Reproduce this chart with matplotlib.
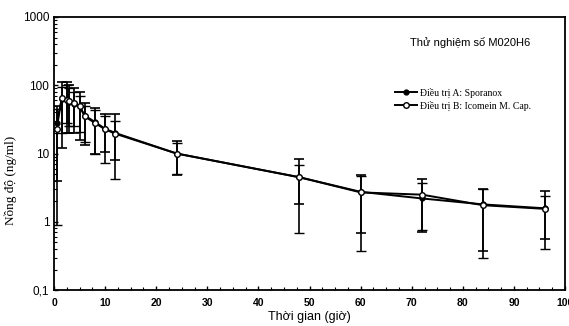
import matplotlib
matplotlib.use("Agg")
import matplotlib.pyplot as plt
from matplotlib.lines import Line2D
from matplotlib.ticker import FixedLocator, FuncFormatter, MultipleLocator, LogLocator, NullFormatter

# thời gian lấy mẫu (giờ)
times = [0.5, 1.5, 2.5, 3, 4, 5, 6, 8, 10, 12, 24, 48, 60, 72, 84, 96]

# Điều trị A: Sporanox (điểm đặc)
a_mean = [28, 62, 60, 57, 54, 49, 36, 29, 23, 20, 10, 4.5, 2.75, 2.2, 1.8, 1.58]
a_hi = [50, 110, 110, 100, 90, 80, 55, 46, 38, 38, 15.5, 8.3, 4.8, 4.2, 3.0, 2.8]
a_lo = [4.0, 12, 20, 20, 20, 16, 13.5, 10, 10.5, 8, 4.8, 1.8, 0.68, 0.7, 0.37, 0.57]

# Điều trị B: Icomein M. Cap. (điểm rỗng)
b_mean = [22.6, 65, 61, 58, 55, 50, 35, 28, 22.6, 19.5, 10, 4.5, 2.7, 2.5, 1.75, 1.55]
b_hi = [45, 95, 100, 90, 80, 70, 50, 44, 36, 30, 14.5, 6.7, 4.7, 3.7, 3.0, 2.4]
b_lo = [0.9, 20, 28, 25, 25, 21, 15, 10, 7.2, 4.2, 5.0, 0.68, 0.37, 0.75, 0.30, 0.40]

ytick_vals = [0.1, 1, 10, 100, 1000]
ytick_text = ["0,1", "1", "10", "100", "1000"]

plt.rcParams["font.family"] = ["Liberation Sans", "DejaVu Sans"]

fig = plt.figure(figsize=(5.69, 3.26), dpi=100)
ax = fig.add_axes([0.095, 0.11, 0.898, 0.838])

serif = "Liberation Serif"

ax.errorbar(times, a_mean, yerr=[[m - l for m, l in zip(a_mean, a_lo)], [h - m for m, h in zip(a_mean, a_hi)]],
            color="black", lw=1.4, marker="o", ms=3.5, mfc="black", mec="black",
            elinewidth=1.2, capsize=3.5, capthick=1.2, zorder=3)
ax.errorbar(times, b_mean, yerr=[[m - l for m, l in zip(b_mean, b_lo)], [h - m for m, h in zip(b_mean, b_hi)]],
            color="black", lw=1.4, marker="o", ms=4, mfc="white", mec="black", mew=1.0,
            elinewidth=1.2, capsize=3.5, capthick=1.2, zorder=4)

ax.set_yscale("log")
ax.set_ylim(0.1, 1000)
ax.set_xlim(0, 100)
ax.yaxis.set_major_locator(FixedLocator(ytick_vals))
ax.yaxis.set_major_formatter(FuncFormatter(lambda v, p: ytick_text[ytick_vals.index(v)] if v in ytick_vals else ""))
ax.yaxis.set_minor_locator(LogLocator(base=10, subs=range(2, 10)))
ax.yaxis.set_minor_formatter(NullFormatter())
ax.xaxis.set_major_locator(MultipleLocator(10))
ax.xaxis.set_minor_locator(MultipleLocator(2.5))

ax.tick_params(axis="both", which="both", direction="in", top=False, right=False)
ax.tick_params(axis="both", which="major", length=3, width=1)
ax.tick_params(axis="both", which="minor", length=2, width=0.8)
ax.tick_params(axis="x", pad=6)
for lbl in ax.get_xticklabels():
    lbl.set_fontweight("bold")
    lbl.set_fontsize(7.5)
for lbl in ax.get_yticklabels():
    lbl.set_fontsize(8.5)
for s in ax.spines.values():
    s.set_linewidth(1.3)

ax.set_xlabel("Thời gian (giờ)", fontsize=9, labelpad=2)
ax.set_ylabel("Nồng độ (ng/ml)", fontsize=9.5, family=serif)
ax.yaxis.set_label_coords(-0.072, 0.4)

ax.text(0.815, 0.905, "Thử nghiệm số M020H6", transform=ax.transAxes, ha="center", va="center", fontsize=8)

handles = [
    Line2D([], [], color="black", lw=1.4, marker="o", ms=3.5, mfc="black", mec="black"),
    Line2D([], [], color="black", lw=1.4, marker="o", ms=4, mfc="white", mec="black"),
]
ax.legend(handles, ["Điều trị A: Sporanox", "Điều trị B: Icomein M. Cap."],
          loc="upper left", bbox_to_anchor=(0.66, 0.755), frameon=False,
          prop={"family": serif, "size": 7}, handlelength=2.2, handletextpad=0.4,
          labelspacing=0.3, borderaxespad=0.0)

fig.savefig("out.png", dpi=100)
